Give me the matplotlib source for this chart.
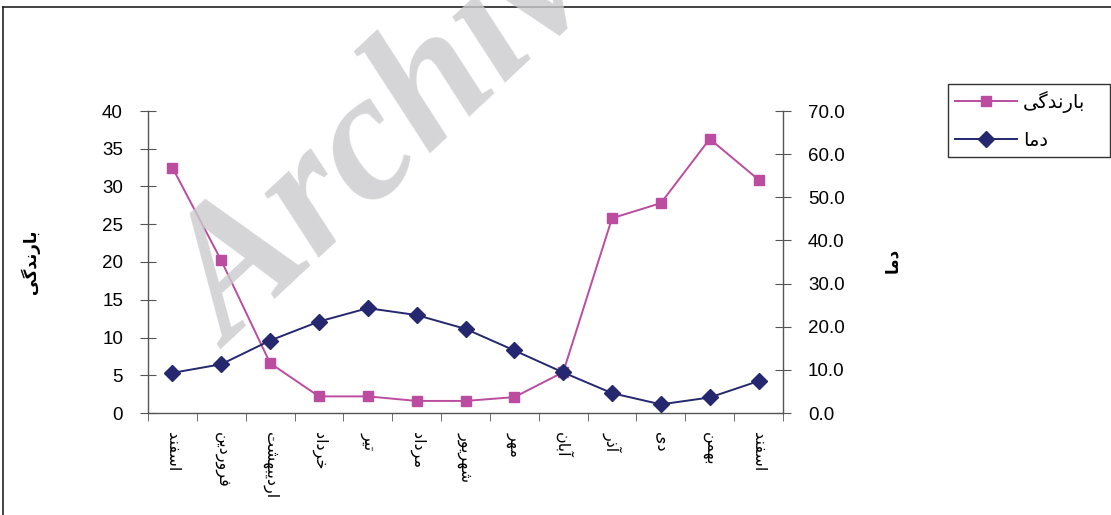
import matplotlib
matplotlib.use('Agg')
import matplotlib.pyplot as plt
from matplotlib.lines import Line2D

# data
months = ['اسفند', 'فروردین', 'اردیبهشت', 'خرداد', 'تیر', 'مرداد', 'شهریور',
          'مهر', 'آبان', 'آذر', 'دی', 'بهمن', 'اسفند']
rain = [32.5, 20.2, 6.6, 2.2, 2.2, 1.6, 1.6, 2.1, 5.4, 25.8, 27.8, 36.3, 30.9]
temp = [9.3, 11.3, 16.8, 21.2, 24.3, 22.7, 19.5, 14.5, 9.4, 4.6, 2.0, 3.6, 7.4]
rain_label = 'بارندگی'
temp_label = 'دما'

# persian letters -> presentation forms (isolated, final, initial, medial)
FORMS = {
    'ا': (0xFE8D, 0xFE8E), 'آ': (0xFE81, 0xFE82),
    'د': (0xFEA9, 0xFEAA), 'ذ': (0xFEAB, 0xFEAC),
    'ر': (0xFEAD, 0xFEAE), 'و': (0xFEED, 0xFEEE),
    'ب': (0xFE8F, 0xFE90, 0xFE91, 0xFE92), 'ت': (0xFE95, 0xFE96, 0xFE97, 0xFE98),
    'خ': (0xFEA5, 0xFEA6, 0xFEA7, 0xFEA8), 'س': (0xFEB1, 0xFEB2, 0xFEB3, 0xFEB4),
    'ش': (0xFEB5, 0xFEB6, 0xFEB7, 0xFEB8), 'ف': (0xFED1, 0xFED2, 0xFED3, 0xFED4),
    'م': (0xFEE1, 0xFEE2, 0xFEE3, 0xFEE4), 'ن': (0xFEE5, 0xFEE6, 0xFEE7, 0xFEE8),
    'ه': (0xFEE9, 0xFEEA, 0xFEEB, 0xFEEC), 'گ': (0xFB92, 0xFB93, 0xFB94, 0xFB95),
    'ی': (0xFBFC, 0xFBFD, 0xFBFE, 0xFBFF),
}


def fa(word):
    out = []
    for i, ch in enumerate(word):
        f = FORMS[ch]
        joined_prev = i > 0 and len(FORMS[word[i - 1]]) == 4
        joins_next = len(f) == 4 and i < len(word) - 1
        if joined_prev and joins_next:
            out.append(f[3])
        elif joined_prev:
            out.append(f[1])
        elif joins_next:
            out.append(f[2])
        else:
            out.append(f[0])
    return ''.join(chr(c) for c in out)[::-1]


pink = '#bb4c9f'
navy = '#25276f'
axis_col = '#555555'

fig = plt.figure(figsize=(11.11, 5.15), dpi=100)
ax = fig.add_axes([148 / 1111, 1 - 413 / 515, 635 / 1111, 302 / 515])
ax2 = ax.twinx()

x = list(range(len(months)))
l1, = ax.plot(x, rain, color=pink, lw=1.4, marker='s', ms=7.5, mec=pink, mfc=pink)
l2, = ax2.plot(x, temp, color=navy, lw=1.4, marker='D', ms=8, mec=navy, mfc=navy)

ax.set_xlim(-0.5, len(months) - 0.5)
ax.set_ylim(0, 40)
ax2.set_ylim(0, 70)
ax.set_yticks(range(0, 41, 5))
ax2.set_yticks(range(0, 71, 10))
ax2.set_yticklabels([f'{v:.1f}' for v in range(0, 71, 10)])

ax.set_xticks(x)
ax.set_xticklabels([fa(m) for m in months], rotation=270, family='DejaVu Sans', fontsize=11.5)
ax.set_xticks([i - 0.5 for i in range(len(months) + 1)], minor=True)
ax.tick_params(axis='x', which='major', length=0, pad=14)
ax.tick_params(axis='x', which='minor', length=6, direction='out', color=axis_col)

for a in (ax, ax2):
    a.spines['top'].set_visible(False)
    for s in a.spines.values():
        s.set_color(axis_col)
        s.set_linewidth(1.0)
ax.spines['right'].set_visible(False)
ax2.spines['left'].set_visible(False)
ax2.spines['bottom'].set_visible(False)

ax.tick_params(axis='y', direction='inout', length=12, pad=12, color=axis_col, labelsize=13.5)
ax2.tick_params(axis='y', direction='inout', length=12, pad=12, color=axis_col, labelsize=13.5)
for lab in ax.get_yticklabels() + ax2.get_yticklabels():
    lab.set_family('Liberation Sans')

ax.set_ylabel(fa(rain_label), family='DejaVu Sans', fontweight='bold', fontsize=12, rotation=90)
ax.yaxis.set_label_coords(-0.170, 0.5)
ax2.set_ylabel(fa(temp_label), family='DejaVu Sans', fontweight='bold', fontsize=12, rotation=90)
ax2.yaxis.set_label_coords(1.157, 0.505)

leg = fig.legend([l1, l2], [fa(rain_label), fa(temp_label)], loc='upper left',
                 bbox_to_anchor=(948 / 1111, 1 - 84 / 515 - 0.01, 162 / 1111, 0.01),
                 mode='expand', borderaxespad=0,
                 prop={'family': 'DejaVu Sans', 'size': 14}, fancybox=False,
                 edgecolor='#333333', framealpha=1, handlelength=3.2,
                 handletextpad=0.3, labelspacing=0.95, borderpad=0.35)
leg.get_frame().set_linewidth(1.0)

# outer chart frame (cut by the picture edges)
fig.add_artist(Line2D([3 / 1111, 1], [1 - 7 / 515] * 2, color='#222222', lw=1.2))
fig.add_artist(Line2D([3 / 1111] * 2, [0, 1 - 7 / 515], color='#222222', lw=1.2))

# watermark
fig.text(230 / 1111, 1 - 350 / 515, 'Archive', family='Liberation Serif', fontweight='bold',
         style='italic', fontsize=132, color='#cbcbcd', alpha=0.8, rotation=43,
         rotation_mode='anchor', ha='left', va='baseline', zorder=10)

fig.savefig('out.png', dpi=100)
